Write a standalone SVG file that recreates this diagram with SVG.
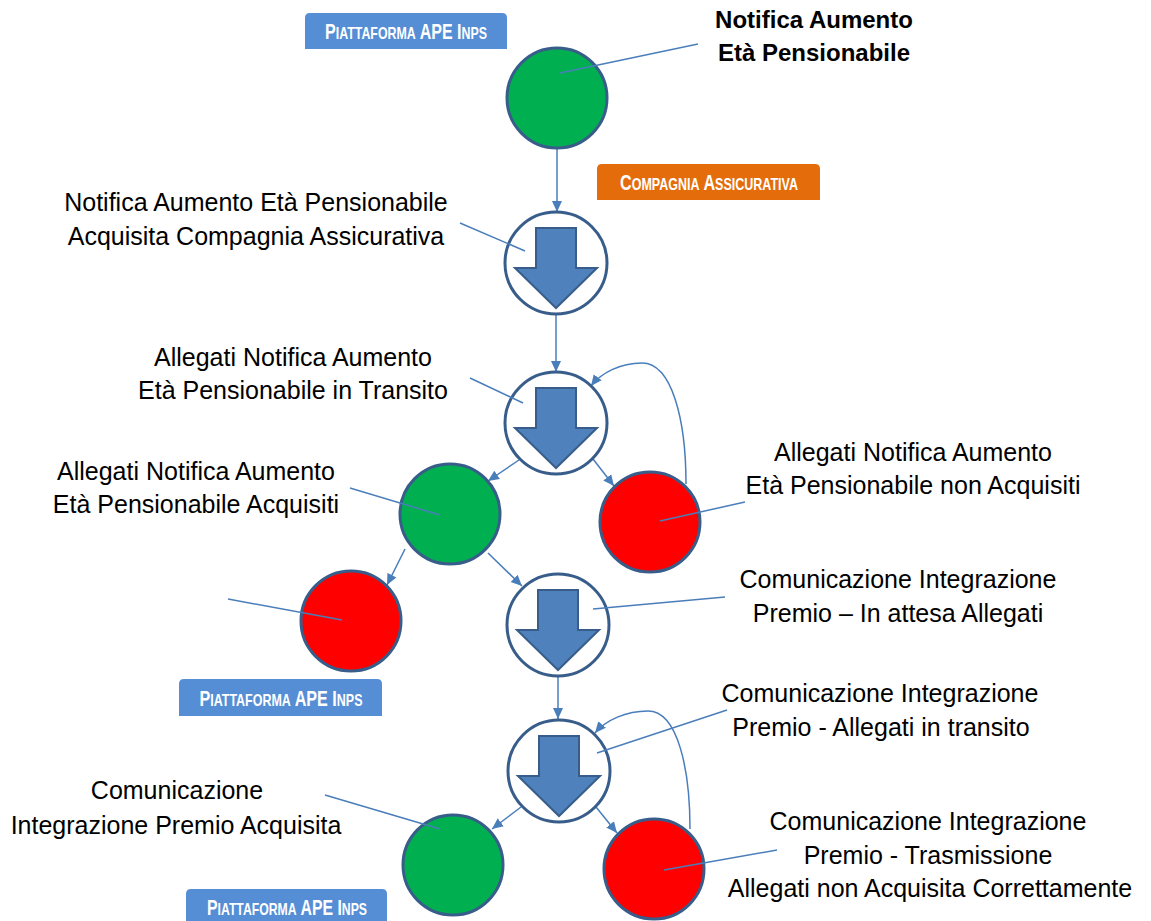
<svg xmlns="http://www.w3.org/2000/svg" width="1151" height="921" viewBox="0 0 1151 921">
<style>
.lbl{font-family:"Liberation Sans",Arial,sans-serif;font-size:25px;fill:#000;text-anchor:middle}
.bold{font-weight:bold;font-size:24px}
.badge-t{font-family:"Liberation Sans",Arial,sans-serif;font-size:22px;font-weight:bold;fill:#fff;text-anchor:middle}
.sc{font-size:17px}
.conn{fill:none;stroke:#4A7EBB;stroke-width:1.5}
.lead{fill:none;stroke:#4A7EBB;stroke-width:1.5}
.n-green{fill:#00B050;stroke:#385D8A;stroke-width:3}
.n-red{fill:#FF0000;stroke:#385D8A;stroke-width:3}
.n-white{fill:#fff;stroke:#385D8A;stroke-width:3}
.blk{fill:#4F81BD;stroke:#385D8A;stroke-width:2;stroke-linejoin:miter}
</style>
<defs>
<marker id="ah" markerUnits="userSpaceOnUse" markerWidth="12" markerHeight="12" viewBox="0 0 12 12" refX="11" refY="6" orient="auto">
<path d="M0,1 L11,6 L0,11 Z" fill="#4A7EBB"/>
</marker>
<path id="darrow" d="M-20,-35 L20,-35 L20,5 L41,5 L0,45 L-41,5 L-20,5 Z"/>
</defs>

<g id="badges">
<g id="badge1"><path d="M305,49 L305,18 Q305,13 310,13 L502,13 Q507,13 507,18 L507,49 Z" fill="#558ED5"/><text class="badge-t" x="406" y="39" textLength="162" lengthAdjust="spacingAndGlyphs">P<tspan class="sc">IATTAFORMA</tspan> APE I<tspan class="sc">NPS</tspan></text></g>
<g id="badge2"><path d="M597,200 L597,169 Q597,164 602,164 L815,164 Q820,164 820,169 L820,200 Z" fill="#E46C0A"/><text class="badge-t" x="709" y="190" textLength="178" lengthAdjust="spacingAndGlyphs">C<tspan class="sc">OMPAGNIA</tspan> A<tspan class="sc">SSICURATIVA</tspan></text></g>
<g id="badge3"><path d="M179,716 L179,684 Q179,679 184,679 L377,679 Q382,679 382,684 L382,716 Z" fill="#558ED5"/><text class="badge-t" x="281" y="706" textLength="163" lengthAdjust="spacingAndGlyphs">P<tspan class="sc">IATTAFORMA</tspan> APE I<tspan class="sc">NPS</tspan></text></g>
<g id="badge4"><path d="M186,925 L186,894 Q186,889 191,889 L382,889 Q387,889 387,894 L387,925 Z" fill="#558ED5"/><text class="badge-t" x="287" y="915" textLength="160" lengthAdjust="spacingAndGlyphs">P<tspan class="sc">IATTAFORMA</tspan> APE I<tspan class="sc">NPS</tspan></text></g>
</g>

<g id="connectors">
<path class="conn" d="M557,148 L557,212" marker-end="url(#ah)"/>
<path class="conn" d="M556,314 L556,372" marker-end="url(#ah)"/>
<path class="conn" d="M519,460 L488,481" marker-end="url(#ah)"/>
<path class="conn" d="M593,459 L614,486" marker-end="url(#ah)"/>
<path class="conn" d="M686,484 C686,420 672,363 642,363 C620,363 601,373 591,386" marker-end="url(#ah)"/>
<path class="conn" d="M405,549 L387,585" marker-end="url(#ah)"/>
<path class="conn" d="M488,553 L522,586" marker-end="url(#ah)"/>
<path class="conn" d="M558,676 L558,719" marker-end="url(#ah)"/>
<path class="conn" d="M521,807 L492,829" marker-end="url(#ah)"/>
<path class="conn" d="M596,807 L617,833" marker-end="url(#ah)"/>
<path class="conn" d="M690,829 C690,770 678,711 648,711 C626,711 606,720 595,733" marker-end="url(#ah)"/>
</g>

<g id="n1"><circle class="n-green" cx="557" cy="98" r="50"/></g>
<g id="n2"><circle class="n-white" cx="556" cy="263" r="51"/><use href="#darrow" class="blk" x="556" y="263"/></g>
<g id="n3"><circle class="n-white" cx="556" cy="423" r="51"/><use href="#darrow" class="blk" x="556" y="423"/></g>
<g id="n4"><circle class="n-green" cx="450" cy="514" r="50"/></g>
<g id="n5"><circle class="n-red" cx="650" cy="522" r="50"/></g>
<g id="n6"><circle class="n-red" cx="351" cy="621" r="50"/></g>
<g id="n7"><circle class="n-white" cx="558" cy="625" r="51"/><use href="#darrow" class="blk" x="558" y="625"/></g>
<g id="n8"><circle class="n-white" cx="559" cy="771" r="51"/><use href="#darrow" class="blk" x="559" y="771"/></g>
<g id="n9"><circle class="n-green" cx="453" cy="865" r="50"/></g>
<g id="n10"><circle class="n-red" cx="654" cy="869" r="50"/></g>

<g id="leaders">
<path class="lead" d="M560,73 L698,44"/>
<path class="lead" d="M460,223 L525,251"/>
<path class="lead" d="M470,378 L523,403"/>
<path class="lead" d="M660,521 L745,502"/>
<path class="lead" d="M350,488 L440,515"/>
<path class="lead" d="M228,599 L342,620"/>
<path class="lead" d="M593,609 L725,597"/>
<path class="lead" d="M597,753 L727,710"/>
<path class="lead" d="M325,795 L440,829"/>
<path class="lead" d="M664,870 L777,850"/>
</g>

<g id="labels">
<text class="lbl bold" x="814" y="28">Notifica Aumento</text>
<text class="lbl bold" x="814" y="61">Età Pensionabile</text>
<text class="lbl" x="256" y="211">Notifica Aumento Età Pensionabile</text>
<text class="lbl" x="256" y="245">Acquisita Compagnia Assicurativa</text>
<text class="lbl" x="293" y="366">Allegati Notifica Aumento</text>
<text class="lbl" x="293" y="399">Età Pensionabile in Transito</text>
<text class="lbl" x="196" y="480">Allegati Notifica Aumento</text>
<text class="lbl" x="196" y="513">Età Pensionabile Acquisiti</text>
<text class="lbl" x="913" y="461">Allegati Notifica Aumento</text>
<text class="lbl" x="913" y="494">Età Pensionabile non Acquisiti</text>
<text class="lbl" x="898" y="588">Comunicazione Integrazione</text>
<text class="lbl" x="898" y="622">Premio – In attesa Allegati</text>
<text class="lbl" x="880" y="702">Comunicazione Integrazione</text>
<text class="lbl" x="881" y="736">Premio - Allegati in transito</text>
<text class="lbl" x="177" y="799">Comunicazione</text>
<text class="lbl" x="176" y="834">Integrazione Premio Acquisita</text>
<text class="lbl" x="928" y="830">Comunicazione Integrazione</text>
<text class="lbl" x="928" y="864">Premio - Trasmissione</text>
<text class="lbl" x="930" y="897">Allegati non Acquisita Correttamente</text>
</g>
</svg>
